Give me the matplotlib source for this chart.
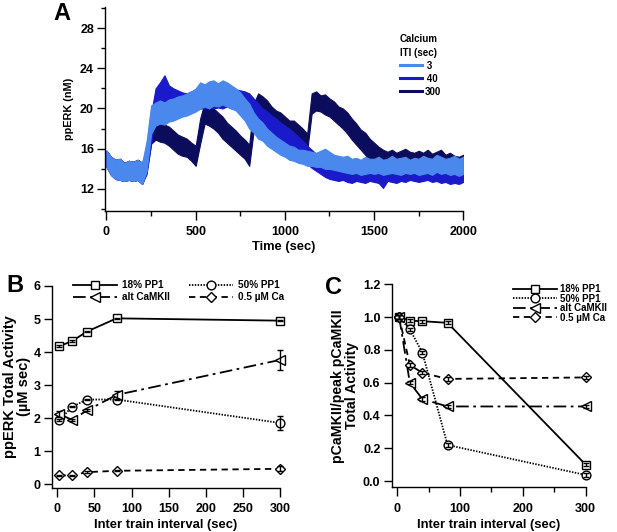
import numpy as np
import matplotlib
matplotlib.use("Agg")
import matplotlib.pyplot as plt
from matplotlib.lines import Line2D
from matplotlib.ticker import MultipleLocator, FixedLocator, FormatStrFormatter

plt.rcParams['font.family'] = ['Liberation Sans', 'DejaVu Sans']
plt.rcParams['font.weight'] = 'bold'
plt.rcParams['axes.labelweight'] = 'bold'

# ---------------- Panel A data (noise envelope, 25 s steps) ----------------
t_A = np.arange(0, 2001, 25)

iti3_lo = [14.2, 13.4, 13.0, 12.9, 12.8, 12.9, 12.8, 12.9, 12.5, 13.8, 17.5, 18.3, 18.5, 18.4, 18.7, 18.8,
           19.0, 19.2, 19.3, 19.5, 19.7, 20.0, 20.2, 20.0, 20.3, 20.2, 20.4, 20.2, 20.0, 19.8, 19.3, 18.8,
           18.0, 17.6, 17.0, 16.8, 16.3, 16.0, 15.7, 15.4, 15.2, 14.9, 14.8, 14.6, 14.5, 14.3, 14.3, 14.2,
           14.2, 14.0, 14.0, 13.9, 13.8, 13.7, 13.6, 13.5, 13.6, 13.4, 13.5, 13.6, 13.5, 13.6, 13.4, 13.5,
           13.6, 13.5, 13.4, 13.6, 13.5, 13.6, 13.4, 13.5, 13.6, 13.4, 13.7, 13.5, 13.6, 13.4, 13.5, 13.3, 13.5]
iti3_hi = [15.8, 15.2, 14.9, 15.0, 14.6, 14.8, 14.7, 14.9, 14.6, 16.8, 20.3, 20.6, 20.8, 20.6, 20.9, 21.0,
           21.2, 21.3, 21.5, 21.7, 22.0, 22.6, 22.4, 22.7, 22.8, 22.5, 22.8, 22.6, 22.3, 22.0, 21.6, 21.0,
           20.5, 19.6, 19.0, 18.6, 18.0, 17.6, 17.2, 16.9, 16.6, 16.3, 16.2, 15.9, 15.9, 15.8, 15.7, 15.6,
           15.8, 16.0, 15.7, 15.4, 15.3, 15.2, 15.3, 15.0, 15.1, 14.9, 15.2, 15.0, 15.0, 15.2, 14.9, 15.0,
           15.3, 15.0, 15.1, 15.2, 14.9, 15.1, 15.0, 15.3, 15.1, 15.0, 15.4, 15.2, 15.0, 15.1, 15.3, 15.0, 15.2]

iti40_lo = [14.2, 13.4, 13.0, 12.9, 12.8, 12.9, 12.8, 12.9, 12.5, 13.5, 16.5, 19.5, 20.5, 20.6, 20.5, 20.3,
            20.0, 19.8, 19.8, 19.9, 19.8, 20.0, 20.0, 20.2, 20.0, 20.1, 20.0, 20.2, 20.0, 20.0, 19.8, 19.6,
            19.3, 19.0, 18.6, 18.2, 17.8, 17.4, 17.0, 16.7, 16.3, 16.0, 15.6, 15.3, 14.9, 14.5, 14.1, 13.8,
            13.5, 13.2, 13.0, 12.9, 12.8, 12.9, 12.7, 12.6, 12.8, 12.7, 12.6, 12.8, 12.7, 12.6, 12.1, 12.8,
            12.7, 12.6, 12.8, 12.7, 12.9, 12.8, 12.7, 12.8, 12.9, 12.7, 12.8, 12.6, 12.7, 12.5, 12.6, 12.5, 12.7]
iti40_hi = [15.8, 15.2, 14.9, 15.0, 14.6, 14.8, 14.7, 14.9, 14.6, 15.5, 19.5, 22.0, 22.6, 23.3, 22.3, 22.0,
            21.8, 21.6, 21.5, 21.7, 21.8, 22.0, 22.3, 22.2, 22.1, 22.0, 21.9, 22.2, 22.0, 21.9, 21.8, 21.7,
            21.5, 21.0, 20.5, 20.0, 19.7, 19.3, 19.0, 18.6, 18.3, 18.0, 17.6, 17.2, 16.8, 16.3, 15.9, 15.5,
            15.2, 15.0, 14.8, 14.9, 14.7, 14.6, 14.5, 14.7, 14.6, 14.4, 14.6, 14.5, 14.7, 14.5, 14.6, 14.5,
            14.8, 14.6, 14.5, 14.7, 14.9, 14.6, 14.8, 15.0, 14.8, 14.6, 14.9, 14.7, 14.8, 14.6, 14.7, 14.9, 14.7]

iti300_lo = [14.2, 13.4, 13.0, 12.9, 12.8, 12.9, 12.8, 12.9, 12.5, 13.8, 16.5, 16.9, 16.7, 16.6, 16.3, 15.9,
             15.5, 15.3, 15.2, 14.8, 14.3, 16.5, 18.5, 18.3, 18.0, 17.6, 17.0, 16.6, 16.2, 15.8, 15.4, 15.0,
             14.3, 17.8, 19.3, 19.0, 18.6, 18.3, 17.8, 17.4, 17.0, 16.8, 16.4, 16.0, 15.5, 15.8, 19.5, 19.8,
             19.7, 19.4, 19.2, 18.8, 18.4, 18.0, 17.5, 16.9, 16.4, 15.9, 15.4, 14.9, 14.5, 14.2, 13.8, 13.6,
             13.7, 13.5, 13.6, 13.7, 13.5, 13.6, 13.4, 13.5, 13.6, 13.3, 13.4, 13.5, 13.2, 13.3, 13.0, 12.8, 13.0]
iti300_hi = [15.8, 15.2, 14.9, 15.0, 14.6, 14.8, 14.7, 14.9, 14.6, 16.0, 18.6, 18.8, 19.0, 18.4, 18.2, 17.8,
             17.4, 17.2, 17.0, 16.6, 16.3, 19.0, 20.6, 20.4, 20.0, 19.6, 19.2, 18.6, 18.2, 17.8, 17.3, 16.9,
             16.4, 20.5, 21.5, 21.2, 20.8, 20.2, 19.8, 19.6, 19.2, 18.8, 18.8, 18.4, 18.0, 17.5, 21.5, 21.7,
             21.3, 21.4, 21.0, 20.7, 20.2, 20.0, 19.6, 19.0, 18.5, 17.9, 17.6, 17.0, 16.6, 16.2, 15.9, 15.7,
             15.9, 15.6, 15.8, 16.0, 15.7, 15.6, 15.8, 15.6, 15.9, 15.5, 15.7, 15.9, 15.4, 15.6, 15.3, 15.2, 15.4]

iti_labels = [' 3', ' 40', '300']
iti_colors = ['#4a88ee', '#1a1acb', '#0c0c5c']

# ---------------- Panel B data ----------------
b_x = [3, 20, 40, 80, 300]
b_pp18 = [4.18, 4.33, 4.62, 5.02, 4.95]
b_pp18_err = [0.02, 0.02, 0.02, 0.02, 0.02]
b_pp50 = [1.94, 2.34, 2.56, 2.56, 1.85]
b_pp50_err = [0.02, 0.02, 0.02, 0.02, 0.2]
b_alt = [2.12, 1.94, 2.23, 2.70, 3.76]
b_alt_err = [0.1, 0.03, 0.03, 0.12, 0.3]
b_ca = [0.26, 0.26, 0.36, 0.40, 0.46]
b_ca_err = [0.02, 0.02, 0.02, 0.02, 0.08]

# ---------------- Panel C data ----------------
c_x = [3, 20, 40, 80, 300]
c_pp18 = [1.0, 0.978, 0.975, 0.965, 0.10]
c_pp50 = [1.0, 0.925, 0.783, 0.22, 0.037]
c_alt = [1.0, 0.60, 0.50, 0.455, 0.455]
c_ca = [1.0, 0.708, 0.66, 0.623, 0.632]
c_err = [0.01, 0.01, 0.01, 0.01, 0.01]

series_names = ['18% PP1', '50% PP1', 'alt CaMKII', '0.5 µM Ca']

W, H = 617, 532
fig = plt.figure(figsize=(W / 100, H / 100), dpi=100)


def rect(l, r, top, bottom):
    return [l / W, 1 - bottom / H, (r - l) / W, (bottom - top) / H]


def style(ax):
    for s in ['top', 'right']:
        ax.spines[s].set_visible(False)
    for s in ['left', 'bottom']:
        ax.spines[s].set_linewidth(1.0)
    ax.tick_params(axis='both', which='both', direction='out', width=1.0, labelsize=9)
    ax.tick_params(axis='x', which='major', length=6.5, pad=4.5)
    ax.tick_params(axis='x', which='minor', length=3.5)
    ax.tick_params(axis='y', which='major', length=5.5, pad=2.5)
    ax.tick_params(axis='y', which='minor', length=3)


# ---------------- Panel A ----------------
axA = fig.add_axes(rect(105, 463.3, 7, 210.7))
style(axA)
traces = [(iti3_lo, iti3_hi), (iti40_lo, iti40_hi), (iti300_lo, iti300_hi)]
for i in [2, 1, 0]:
    lo, hi = traces[i]
    axA.fill_between(t_A, lo, hi, facecolor=iti_colors[i], edgecolor=iti_colors[i], lw=0.8, zorder=2)
axA.set_xlim(-8.4, 2000)
axA.set_ylim(9.84, 30.09)
axA.xaxis.set_major_locator(MultipleLocator(500))
axA.xaxis.set_minor_locator(MultipleLocator(250))
axA.yaxis.set_major_locator(FixedLocator([12, 16, 20, 24, 28]))
axA.yaxis.set_minor_locator(MultipleLocator(2))
axA.set_xlabel('Time (sec)', fontsize=9.3, labelpad=2)
axA.set_ylabel('ppERK (nM)', fontsize=7.8, labelpad=4)
leg_handles = [Line2D([], [], color=c, lw=2.2) for c in iti_colors]
legA = axA.legend(handles=leg_handles, labels=iti_labels,
                  title='Calcium\nITI (sec)', loc='upper left',
                  bbox_to_anchor=(400 / W, 1 - 34.5 / H), bbox_transform=fig.transFigure,
                  frameon=False, borderpad=0, borderaxespad=0, handlelength=2.3, handletextpad=0.2,
                  labelspacing=0.32, alignment='left',
                  prop={'size': 7.0, 'weight': 'bold'},
                  title_fontproperties={'size': 7.0, 'weight': 'bold'})
legA.get_title().set_linespacing(1.38)
fig.text(62 / W, 1 - 13 / H, 'A', fontsize=17, fontweight='bold', ha='center', va='center')

# ---------------- Panel B & C helpers ----------------
mk_kw = dict(markerfacecolor='white', markeredgecolor='black', markeredgewidth=1.0, color='black',
             lw=1.3, clip_on=False)
styles = [
    dict(marker='s', markersize=6.3, linestyle='-'),
    dict(marker='o', markersize=6.3, linestyle=(0, (0.8, 0.8))),
    dict(marker='<', markersize=6.5, linestyle=(0, (7, 2.5, 1.5, 2.5))),
    dict(marker='D', markersize=5.2, linestyle=(0, (3.5, 2.5))),
]


def draw_panel(ax, x, ys, errs):
    hs = []
    for y, e, st in zip(ys, errs, styles):
        h, = ax.plot(x, y, zorder=3, **st, **mk_kw)
        ax.errorbar(x, y, yerr=e, fmt='none', ecolor='black', elinewidth=1.0, capsize=2.3,
                    capthick=1.0, zorder=4, clip_on=False)
        hs.append(h)
    return hs


# ---------------- Panel B ----------------
axB = fig.add_axes(rect(51.7, 280, 286, 487.5))
style(axB)
hB = draw_panel(axB, b_x, [b_pp18, b_pp50, b_alt, b_ca],
                [b_pp18_err, b_pp50_err, b_alt_err, b_ca_err])
axB.set_xlim(-7.5, 300)
axB.set_ylim(-0.106, 6.0)
axB.xaxis.set_major_locator(MultipleLocator(50))
axB.yaxis.set_major_locator(MultipleLocator(1))
axB.set_xlabel('Inter train interval (sec)', fontsize=9.4, labelpad=3)
axB.set_ylabel('ppERK Total Activity\n(µM sec)', fontsize=10.5, labelpad=2, linespacing=1.0)
axB.legend(handles=[hB[0], hB[2], hB[1], hB[3]],
           labels=[series_names[0], series_names[2], series_names[1], series_names[3]],
           ncol=2, loc='upper left', bbox_to_anchor=(73 / W, 1 - 280 / H), bbox_transform=fig.transFigure,
           frameon=False, borderpad=0, borderaxespad=0, handlelength=4.4, handletextpad=0.45,
           columnspacing=2.0, labelspacing=0.25, numpoints=1, prop={'size': 7.2, 'weight': 'bold'})
fig.text(15 / W, 1 - 286 / H, 'B', fontsize=17, fontweight='bold', ha='center', va='center')

# ---------------- Panel C ----------------
axC = fig.add_axes(rect(391.5, 585.7, 284.3, 487.3))
style(axC)
hC = draw_panel(axC, c_x, [c_pp18, c_pp50, c_alt, c_ca], [c_err] * 4)
axC.set_xlim(-9.2, 300)
axC.set_ylim(-0.038, 1.2)
axC.xaxis.set_major_locator(MultipleLocator(100))
axC.xaxis.set_minor_locator(MultipleLocator(50))
axC.yaxis.set_major_locator(MultipleLocator(0.2))
axC.yaxis.set_major_formatter(FormatStrFormatter('%.1f'))
axC.set_xlabel('Inter train interval (sec)', fontsize=9.4, labelpad=3)
axC.set_ylabel('pCaMKII/peak pCaMKII\nTotal Activity', fontsize=10.2, labelpad=3, linespacing=1.0)
axC.legend(handles=hC, labels=series_names, loc='upper left',
           bbox_to_anchor=(513 / W, 1 - 284 / H), bbox_transform=fig.transFigure,
           frameon=False, borderpad=0, borderaxespad=0, handlelength=4.5, handletextpad=0.35,
           labelspacing=-0.05, numpoints=1, prop={'size': 7.0, 'weight': 'bold'})
fig.text(334 / W, 1 - 287 / H, 'C', fontsize=17, fontweight='bold', ha='center', va='center')

fig.savefig('out.png', dpi=100)
